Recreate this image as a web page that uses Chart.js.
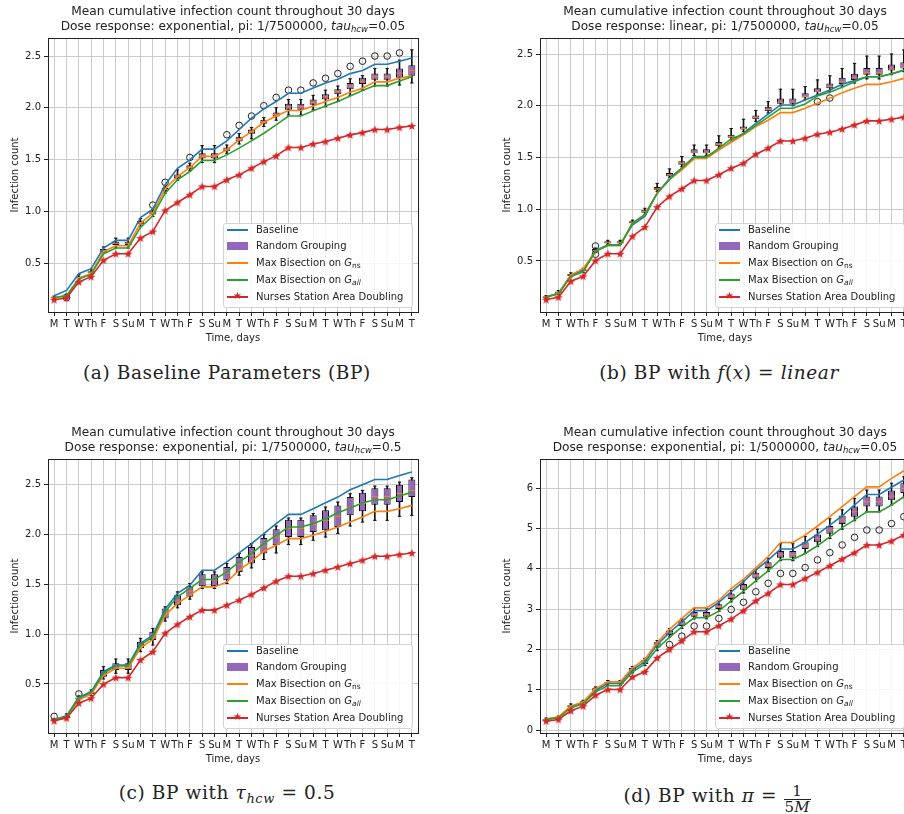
<!DOCTYPE html>
<html><head><meta charset="utf-8">
<script src="https://cdn.jsdelivr.net/npm/chart.js@4.4.0/dist/chart.umd.min.js"></script>
<style>
html,body{margin:0;padding:0;width:904px;height:814px;overflow:hidden;background:#fff;font-family:'DejaVu Sans',sans-serif;color:#222;}
.panel{position:absolute;width:430px;height:350px;}
.panel canvas{position:absolute;left:0;top:0;}
.ttl{position:absolute;left:0px;width:466px;top:4px;text-align:center;font-size:12.2px;line-height:15px;white-space:nowrap;}
.ttl .sub{font-size:8.5px;}
.sub{font-size:7.5px;position:relative;top:2px;}
.leg{position:absolute;left:223px;top:223px;width:190px;height:85px;box-sizing:border-box;border:1px solid #d4d4d4;border-radius:3px;background:rgba(255,255,255,0.85);font-size:10px;}
.row{position:absolute;left:0;width:188px;height:12px;}
.sw{position:absolute;left:3px;width:21px;}
.tx{position:absolute;left:32px;top:0;line-height:12px;white-space:nowrap;}
.star{position:absolute;left:6px;font-size:10px;line-height:12px;color:#d62728;}
.cap{position:absolute;width:452px;text-align:center;font-family:'DejaVu Serif',serif;font-size:18.5px;letter-spacing:0.6px;line-height:20px;white-space:nowrap;}
.frac{display:inline-block;vertical-align:-10px;text-align:center;font-size:15px;line-height:15px;letter-spacing:0;}
.frac span{display:block;padding:0 1px;}
.frac .den{border-top:1px solid #222;}
</style></head>
<body>
<div class="panel" style="left:0;top:0"><canvas id="ca" width="430" height="350"></canvas>
<div class="ttl">Mean cumulative infection count throughout 30 days<br>Dose response: exponential, pi: 1/7500000, <i>tau<span class="sub">hcw</span></i>=0.05</div></div>
<div class="panel" style="left:492px;top:0"><canvas id="cb" width="430" height="350"></canvas>
<div class="ttl">Mean cumulative infection count throughout 30 days<br>Dose response: linear, pi: 1/7500000, <i>tau<span class="sub">hcw</span></i>=0.05</div></div>
<div class="panel" style="left:0;top:421px"><canvas id="cc" width="430" height="350"></canvas>
<div class="ttl">Mean cumulative infection count throughout 30 days<br>Dose response: exponential, pi: 1/7500000, <i>tau<span class="sub">hcw</span></i>=0.5</div></div>
<div class="panel" style="left:492px;top:421px"><canvas id="cd" width="430" height="350"></canvas>
<div class="ttl">Mean cumulative infection count throughout 30 days<br>Dose response: exponential, pi: 1/5000000, <i>tau<span class="sub">hcw</span></i>=0.05</div></div>

<div class="cap" style="left:1px;top:363px">(a) Baseline Parameters (BP)</div>
<div class="cap" style="left:493px;top:363px">(b) BP with <i>f</i>(<i>x</i>) = <i>linear</i></div>
<div class="cap" style="left:1px;top:783px">(c) BP with <i>τ<span style="font-size:13px;position:relative;top:4px">hcw</span></i> = 0.5</div>
<div class="cap" style="left:491px;top:784px">(d) BP with <i>π</i> = <span class="frac"><span>1</span><span class="den">5<i>M</i></span></span></div>

<script>
// ---------- data ----------
const days = ['M','T','W','Th','F','S','Su','M','T','W','Th','F','S','Su','M','T','W','Th','F','S','Su','M','T','W','Th','F','S','Su','M','T'];
const seriesNames = ['Baseline','Random Grouping','Max Bisection on G_ns','Max Bisection on G_all','Nurses Station Area Doubling'];

// (a) Baseline parameters
const aBaseline = [0.185,0.236,0.397,0.445,0.645,0.719,0.719,0.94,1.02,1.256,1.416,1.497,1.60,1.60,1.68,1.79,1.90,1.99,2.06,2.14,2.14,2.19,2.24,2.275,2.33,2.36,2.42,2.42,2.45,2.48];
const aMaxNs    = [0.165,0.185,0.355,0.40,0.61,0.667,0.667,0.886,0.98,1.217,1.336,1.423,1.53,1.53,1.593,1.69,1.77,1.86,1.92,1.973,1.973,2.018,2.06,2.10,2.15,2.188,2.25,2.25,2.285,2.31];
const aMaxAll   = [0.165,0.185,0.345,0.39,0.59,0.645,0.645,0.845,0.957,1.175,1.304,1.384,1.49,1.49,1.545,1.61,1.68,1.754,1.834,1.92,1.92,1.97,2.018,2.06,2.114,2.166,2.214,2.214,2.259,2.30];
const aNurses   = [0.146,0.162,0.317,0.368,0.526,0.59,0.59,0.741,0.805,1.008,1.085,1.16,1.24,1.24,1.304,1.352,1.416,1.48,1.535,1.616,1.616,1.65,1.674,1.706,1.738,1.76,1.79,1.79,1.81,1.825];
const aRgMed = [0.17,0.185,0.36,0.41,0.62,0.69,0.69,0.89,0.985,1.21,1.34,1.425,1.535,1.535,1.595,1.695,1.77,1.865,1.935,2.01,2.01,2.055,2.105,2.155,2.21,2.255,2.30,2.30,2.335,2.36];
const aRgQ1  = [0.165,0.18,0.35,0.40,0.61,0.675,0.675,0.875,0.97,1.195,1.32,1.41,1.51,1.51,1.58,1.675,1.75,1.845,1.915,1.98,1.98,2.03,2.08,2.13,2.18,2.23,2.27,2.27,2.29,2.31];
const aRgQ3  = [0.175,0.195,0.37,0.42,0.635,0.705,0.705,0.905,1.0,1.225,1.355,1.445,1.56,1.56,1.615,1.72,1.79,1.885,1.955,2.04,2.04,2.08,2.13,2.18,2.24,2.29,2.33,2.33,2.38,2.41];
const aRgLo  = [0.16,0.175,0.34,0.39,0.595,0.645,0.645,0.855,0.95,1.175,1.30,1.39,1.47,1.47,1.56,1.65,1.70,1.82,1.88,1.93,1.93,1.98,2.01,2.06,2.12,2.17,2.21,2.21,2.22,2.24];
const aRgHi  = [0.18,0.20,0.39,0.44,0.655,0.74,0.74,0.93,1.02,1.245,1.40,1.465,1.635,1.635,1.64,1.75,1.81,1.905,2.0,2.08,2.08,2.12,2.17,2.21,2.28,2.31,2.38,2.38,2.46,2.56];
const aRgOut = [null,0.165,null,null,null,null,null,null,1.06,1.28,null,1.52,null,null,1.74,1.83,1.92,2.02,2.10,2.17,2.17,2.24,2.285,2.33,2.40,2.45,2.50,2.50,2.53,null];

// (b) linear dose response
const bBaseline = [0.153,0.19,0.36,0.41,0.60,0.657,0.657,0.85,0.93,1.156,1.30,1.397,1.51,1.51,1.574,1.654,1.735,1.83,1.92,2.008,2.008,2.056,2.105,2.153,2.207,2.243,2.28,2.28,2.31,2.345];
const bMaxNs    = [0.153,0.185,0.367,0.426,0.593,0.65,0.65,0.866,0.947,1.156,1.29,1.38,1.49,1.49,1.574,1.648,1.72,1.80,1.86,1.934,1.934,1.976,2.024,2.072,2.127,2.169,2.207,2.207,2.233,2.265];
const bMaxAll   = [0.153,0.18,0.35,0.394,0.593,0.65,0.65,0.866,0.947,1.156,1.285,1.397,1.503,1.503,1.59,1.68,1.728,1.81,1.89,1.976,1.976,2.018,2.095,2.13,2.18,2.233,2.28,2.28,2.307,2.34];
const bNurses   = [0.127,0.15,0.304,0.352,0.503,0.57,0.57,0.738,0.828,1.021,1.124,1.198,1.278,1.278,1.333,1.397,1.445,1.532,1.59,1.66,1.66,1.686,1.725,1.744,1.776,1.815,1.854,1.854,1.87,1.89];
const bRgMed = [0.153,0.195,0.365,0.41,0.60,0.68,0.68,0.875,0.98,1.195,1.33,1.44,1.55,1.55,1.625,1.70,1.78,1.885,1.96,2.035,2.035,2.09,2.14,2.185,2.23,2.27,2.32,2.32,2.355,2.37];
const bRgQ1  = [0.145,0.185,0.355,0.40,0.59,0.67,0.67,0.865,0.965,1.185,1.32,1.43,1.54,1.54,1.61,1.69,1.77,1.87,1.95,2.02,2.02,2.08,2.13,2.17,2.21,2.25,2.30,2.30,2.34,2.36];
const bRgQ3  = [0.16,0.205,0.375,0.42,0.615,0.69,0.69,0.885,0.995,1.215,1.35,1.465,1.58,1.58,1.65,1.72,1.80,1.905,1.99,2.07,2.07,2.12,2.17,2.215,2.27,2.31,2.365,2.365,2.40,2.42];
const bRgLo  = [0.14,0.175,0.345,0.39,0.58,0.66,0.66,0.855,0.95,1.17,1.31,1.41,1.52,1.52,1.59,1.67,1.75,1.85,1.93,2.0,2.0,2.06,2.11,2.14,2.19,2.22,2.26,2.26,2.30,2.33];
const bRgHi  = [0.165,0.215,0.385,0.43,0.625,0.70,0.70,0.895,1.01,1.25,1.39,1.51,1.62,1.62,1.71,1.78,1.87,1.955,2.04,2.16,2.16,2.185,2.25,2.29,2.36,2.41,2.48,2.48,2.50,2.54];
const bRgOut = [null,null,null,null,0.645,null,null,null,null,null,null,null,null,null,null,null,null,null,null,null,null,null,2.04,2.075,null,null,null,null,null,null];
const bRgOut2= [null,null,null,null,0.565,null,null,null,null,null,null,null,null,null,null,null,null,null,null,null,null,null,null,null,null,null,null,null,null,null];

// (c) tau_hcw = 0.5
const cBaseline = [0.14,0.18,0.367,0.423,0.623,0.69,0.69,0.907,0.99,1.25,1.407,1.49,1.64,1.64,1.723,1.813,1.907,2.007,2.107,2.20,2.20,2.257,2.317,2.373,2.447,2.497,2.55,2.55,2.59,2.625];
const cMaxNs    = [0.133,0.167,0.34,0.397,0.583,0.657,0.657,0.863,0.947,1.19,1.307,1.39,1.473,1.473,1.523,1.64,1.73,1.83,1.89,1.957,1.957,1.99,2.03,2.073,2.123,2.173,2.23,2.23,2.257,2.29];
const cMaxAll   = [0.14,0.173,0.357,0.413,0.607,0.68,0.68,0.89,0.973,1.223,1.373,1.457,1.547,1.547,1.623,1.723,1.807,1.907,1.99,2.073,2.073,2.107,2.157,2.217,2.263,2.313,2.347,2.347,2.383,2.423];
const cNurses   = [0.13,0.157,0.307,0.357,0.497,0.563,0.563,0.74,0.823,1.007,1.097,1.173,1.24,1.24,1.29,1.34,1.397,1.463,1.53,1.58,1.58,1.607,1.64,1.673,1.707,1.74,1.78,1.78,1.797,1.813];
const cRgMed = [0.14,0.17,0.355,0.41,0.60,0.667,0.667,0.89,0.97,1.21,1.34,1.43,1.54,1.54,1.61,1.70,1.79,1.88,1.97,2.06,2.06,2.10,2.14,2.18,2.27,2.31,2.38,2.38,2.41,2.44];
const cRgQ1  = [0.135,0.16,0.345,0.40,0.573,0.64,0.64,0.857,0.94,1.157,1.29,1.373,1.48,1.48,1.54,1.623,1.707,1.807,1.89,1.973,1.973,2.023,2.04,2.073,2.19,2.23,2.297,2.297,2.323,2.373];
const cRgQ3  = [0.145,0.18,0.365,0.425,0.64,0.707,0.707,0.923,1.023,1.257,1.39,1.48,1.60,1.60,1.673,1.773,1.873,1.963,2.05,2.147,2.147,2.19,2.24,2.29,2.373,2.417,2.463,2.463,2.497,2.55];
const cRgLo  = [0.13,0.145,0.33,0.385,0.55,0.607,0.607,0.823,0.89,1.13,1.263,1.35,1.457,1.457,1.507,1.59,1.663,1.747,1.813,1.897,1.897,1.94,1.973,2.007,2.083,2.123,2.14,2.14,2.18,2.19];
const cRgHi  = [0.15,0.20,0.38,0.44,0.673,0.75,0.75,0.957,1.057,1.273,1.423,1.507,1.623,1.623,1.707,1.807,1.907,1.997,2.083,2.163,2.163,2.207,2.273,2.323,2.407,2.44,2.483,2.483,2.523,2.567];
const cRgOut = [0.175,null,0.40,null,null,null,null,null,null,null,null,null,null,null,null,null,null,null,null,null,null,null,null,null,null,null,null,null,null,null];

// (d) pi = 1/5M
const dBaseline = [0.273,0.31,0.58,0.68,0.99,1.157,1.157,1.50,1.69,2.12,2.42,2.686,2.96,2.96,3.165,3.43,3.68,3.97,4.215,4.49,4.49,4.65,4.86,5.08,5.31,5.58,5.84,5.84,6.02,6.20];
const dMaxNs    = [0.273,0.33,0.603,0.70,1.03,1.198,1.198,1.545,1.76,2.17,2.50,2.77,3.03,3.03,3.22,3.51,3.74,4.02,4.30,4.65,4.65,4.835,5.06,5.29,5.54,5.785,6.03,6.03,6.24,6.43];
const dMaxAll   = [0.264,0.306,0.55,0.66,0.95,1.10,1.10,1.446,1.636,2.025,2.30,2.56,2.785,2.785,2.95,3.207,3.446,3.70,3.95,4.23,4.23,4.38,4.57,4.79,5.02,5.21,5.41,5.41,5.58,5.785];
const dNurses   = [0.223,0.264,0.48,0.595,0.868,1.008,1.008,1.32,1.446,1.79,2.0,2.215,2.44,2.44,2.587,2.752,2.96,3.207,3.39,3.61,3.61,3.76,3.91,4.074,4.24,4.397,4.587,4.587,4.686,4.835];
const dRgMed = [0.26,0.31,0.595,0.69,1.01,1.17,1.17,1.50,1.69,2.12,2.42,2.645,2.87,2.87,3.06,3.32,3.55,3.83,4.09,4.355,4.355,4.57,4.75,4.96,5.21,5.41,5.66,5.66,5.80,5.99];
const dRgQ1  = [0.24,0.29,0.57,0.665,0.98,1.14,1.14,1.46,1.64,2.05,2.36,2.58,2.81,2.81,3.00,3.25,3.48,3.76,4.02,4.27,4.27,4.49,4.66,4.87,5.11,5.29,5.54,5.54,5.70,5.88];
const dRgQ3  = [0.28,0.33,0.62,0.715,1.04,1.20,1.20,1.54,1.74,2.18,2.47,2.70,2.93,2.93,3.12,3.39,3.62,3.90,4.16,4.44,4.44,4.66,4.85,5.06,5.32,5.54,5.79,5.79,5.94,6.12];
const dRgLo  = [0.22,0.27,0.54,0.64,0.95,1.11,1.11,1.42,1.60,1.97,2.31,2.52,2.76,2.76,2.94,3.18,3.40,3.68,3.93,4.20,4.20,4.38,4.55,4.75,4.98,5.19,5.41,5.41,5.58,5.76];
const dRgHi  = [0.30,0.35,0.65,0.74,1.07,1.23,1.23,1.58,1.78,2.22,2.52,2.76,3.02,3.02,3.20,3.46,3.70,3.99,4.26,4.62,4.62,4.80,4.98,5.24,5.46,5.74,5.95,5.95,6.12,6.28];
const dRgOut = [null,null,null,null,null,null,null,null,null,null,2.12,2.33,2.58,2.58,2.77,2.99,3.17,3.43,3.64,3.885,3.885,4.03,4.22,4.40,4.59,4.78,4.96,4.96,5.12,5.29];

// y axis ranges and tick values
const aYTicks = [0.5,1.0,1.5,2.0,2.5];
const bYTicks = [0.5,1.0,1.5,2.0,2.5];
const cYTicks = [0.5,1.0,1.5,2.0,2.5];
const dYTicks = [0,1,2,3,4,5,6];
const aY = {min:0.027, max:2.674, dec:1};
const bY = {min:0.007, max:2.655, dec:1};
const cY = {min:0.008, max:2.755, dec:1};
const dY = {min:-0.07, max:6.72, dec:0};

// ---------- drawing ----------
const BLUE='#1f77b4', ORANGE='#ff7f0e', GREEN='#2ca02c', RED='#d62728', PURPLE='#9467bd';
Chart.defaults.font.family = "'DejaVu Sans', sans-serif";
Chart.defaults.color = '#222';

function starImage(color, R) {
  const c = document.createElement('canvas');
  const s = 10; c.width = s; c.height = s;
  const g = c.getContext('2d'); g.fillStyle = color; g.beginPath();
  for (let k = 0; k < 10; k++) {
    const r = k % 2 ? R * 0.42 : R;
    const a = -Math.PI / 2 + k * Math.PI / 5;
    const x = s / 2 + r * Math.cos(a), y = s / 2 + 0.4 + r * Math.sin(a);
    if (k) g.lineTo(x, y); else g.moveTo(x, y);
  }
  g.closePath(); g.fill();
  return c;
}
const STAR = starImage(RED, 4.5);

function build(id, base, ns, all, nurses, med, q1, q3, lo, hi, outs, Y, yTicks) {
  const ds = [
    {type:'line', label:seriesNames[4], data:nurses, borderColor:RED, backgroundColor:RED, borderWidth:1.6, pointStyle:STAR, pointRadius:3, pointHoverRadius:3, order:1},
    {type:'line', label:seriesNames[3], data:all, borderColor:GREEN, borderWidth:1.6, pointRadius:0, order:2},
    {type:'line', label:seriesNames[2], data:ns, borderColor:ORANGE, borderWidth:1.6, pointRadius:0, order:3},
    {type:'line', label:seriesNames[0], data:base, borderColor:BLUE, borderWidth:1.6, pointRadius:0, order:4}
  ];
  outs.forEach(o => ds.push({type:'line', label:'outliers', data:o, showLine:false, pointStyle:'circle', pointRadius:3.3, pointBorderColor:'#222', pointBackgroundColor:'rgba(0,0,0,0)', pointBorderWidth:1, order:5}));
  ds.push({type:'line', label:'median', data:med, showLine:false, pointStyle:'line', pointRadius:3.2, pointBorderColor:ORANGE, pointBorderWidth:1, order:6});
  ds.push({type:'line', label:'cap low', data:lo, showLine:false, pointStyle:'line', pointRadius:1.7, pointBorderColor:'#111', pointBorderWidth:1, order:6});
  ds.push({type:'line', label:'cap high', data:hi, showLine:false, pointStyle:'line', pointRadius:1.7, pointBorderColor:'#111', pointBorderWidth:1, order:6});
  ds.push({type:'bar', label:seriesNames[1], data:q1.map((v,i)=>[v, q3[i]]), backgroundColor:PURPLE, borderColor:'#111', borderWidth:1, borderSkipped:false, barPercentage:0.57, categoryPercentage:1, grouped:false, order:7});
  ds.push({type:'bar', label:'whiskers', data:lo.map((v,i)=>[v, hi[i]]), backgroundColor:'#111', barThickness:1, grouped:false, order:8});

  return new Chart(document.getElementById(id), {
    type:'bar',
    data:{labels:days, datasets:ds},
    options:{
      responsive:false, animation:false, devicePixelRatio:1, events:[],
      layout:{padding:{top:38, right:12, left:0, bottom:0}},
      plugins:{legend:{display:false}, tooltip:{enabled:false}, title:{display:false}},
      scales:{
        x:{type:'category', offset:true,
           grid:{offset:false, color:'#cbcbcb', lineWidth:1, tickColor:'#222', tickLength:4},
           border:{color:'#222', width:1},
           ticks:{autoSkip:false, maxRotation:0, minRotation:0, padding:2, font:{size:10}},
           title:{display:true, text:'Time, days', font:{size:10}, padding:{top:0, bottom:6}},
           afterFit:s=>{s.height=38;}},
        x2:{type:'category', position:'top', offset:true, grid:{display:false}, ticks:{display:false},
            border:{display:true, color:'#222', width:1}, afterFit:s=>{s.height=0;}},
        y:{type:'linear', min:Y.min, max:Y.max,
           ticks:{padding:3, font:{size:10}, callback:v=>Number(v).toFixed(Y.dec)},
           afterBuildTicks:s=>{s.ticks = yTicks.map(v=>({value:v}));},
           grid:{color:'#cbcbcb', lineWidth:1, tickColor:'#222', tickLength:4},
           border:{color:'#222', width:1},
           title:{display:true, text:'Infection count', font:{size:10}, padding:{top:9, bottom:0}},
           afterFit:s=>{s.width=48;}},
        y2:{type:'linear', position:'right', min:Y.min, max:Y.max, grid:{display:false}, ticks:{display:false},
            border:{display:true, color:'#222', width:1}, afterFit:s=>{s.width=0;}}
      }
    }
  });
}

build('ca', aBaseline, aMaxNs, aMaxAll, aNurses, aRgMed, aRgQ1, aRgQ3, aRgLo, aRgHi, [aRgOut], aY, aYTicks);
build('cb', bBaseline, bMaxNs, bMaxAll, bNurses, bRgMed, bRgQ1, bRgQ3, bRgLo, bRgHi, [bRgOut, bRgOut2], bY, bYTicks);
build('cc', cBaseline, cMaxNs, cMaxAll, cNurses, cRgMed, cRgQ1, cRgQ3, cRgLo, cRgHi, [cRgOut], cY, cYTicks);
build('cd', dBaseline, dMaxNs, dMaxAll, dNurses, dRgMed, dRgQ1, dRgQ3, dRgLo, dRgHi, [dRgOut], dY, dYTicks);

// ---------- legends (HTML, with true subscripts) ----------
function legendHTML() {
  const rows = [
    {top:0, sw:'<span class="sw" style="top:5px;height:2px;background:'+BLUE+'"></span>', tx:'Baseline'},
    {top:16, sw:'<span class="sw" style="top:2px;height:8px;background:'+PURPLE+'"></span>', tx:'Random Grouping'},
    {top:33, sw:'<span class="sw" style="top:5px;height:2px;background:'+ORANGE+'"></span>', tx:'Max Bisection on <i>G</i><span class="sub">ns</span>'},
    {top:50, sw:'<span class="sw" style="top:5px;height:2px;background:'+GREEN+'"></span>', tx:'Max Bisection on <i>G</i><span class="sub"><i>all</i></span>'},
    {top:67, sw:'<span class="sw" style="top:5px;height:2px;background:'+RED+'"><span class="star" style="top:-6px">★</span></span>', tx:'Nurses Station Area Doubling'}
  ];
  return rows.map(r => '<div class="row" style="top:'+r.top+'px">'+r.sw+'<span class="tx">'+r.tx+'</span></div>').join('');
}
document.querySelectorAll('.panel').forEach(p => {
  const d = document.createElement('div'); d.className = 'leg'; d.innerHTML = legendHTML(); p.appendChild(d);
});
</script>
</body></html>
